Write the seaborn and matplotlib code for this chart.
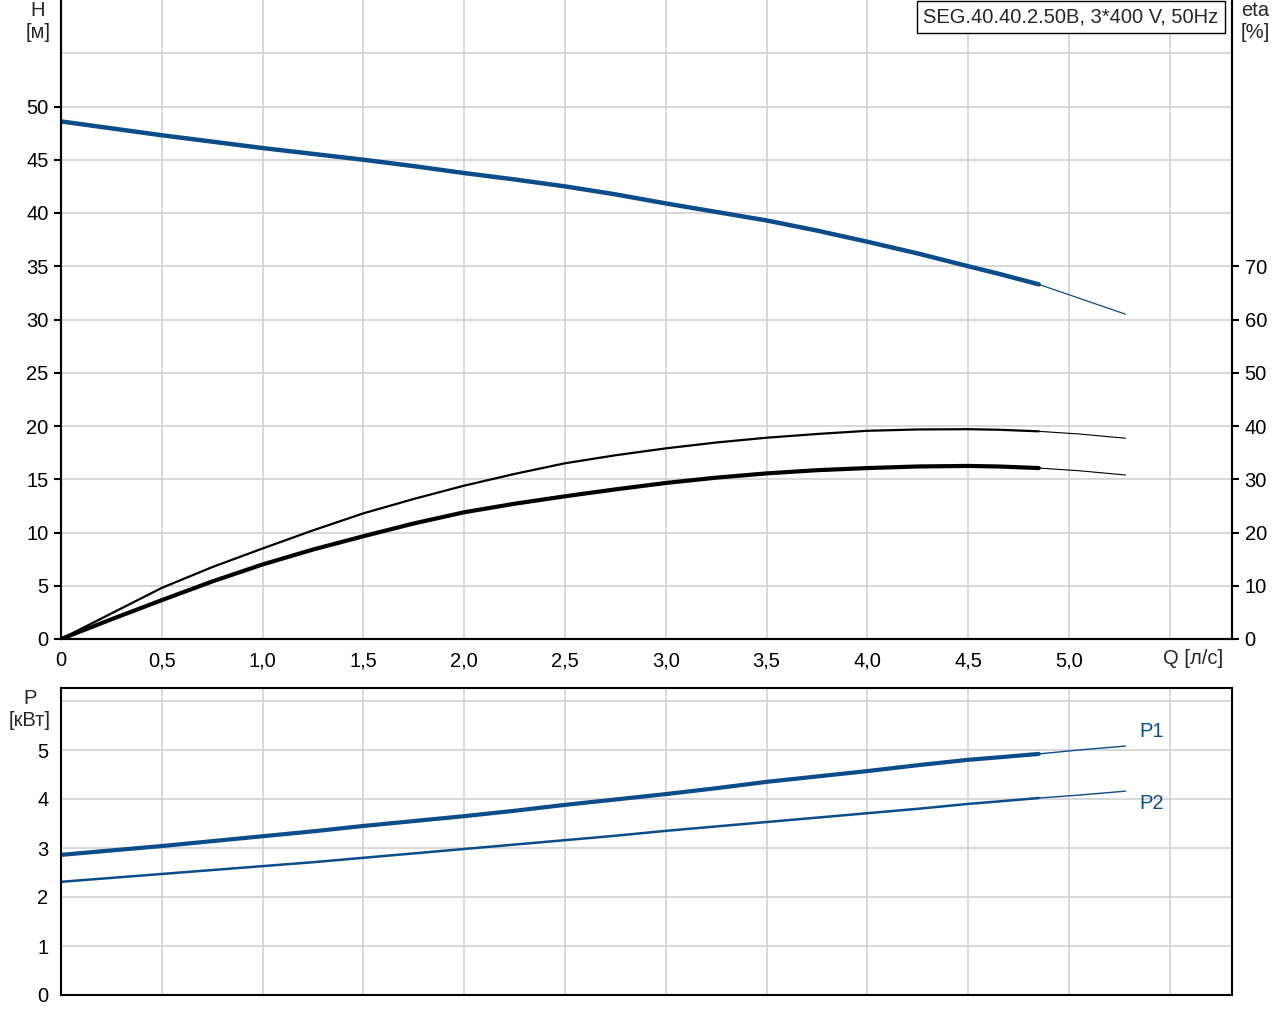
import matplotlib
matplotlib.use("Agg")
import numpy as np
import pandas as pd
import matplotlib.pyplot as plt
import matplotlib.transforms as mtransforms
import seaborn as sns

# flow points, l/s  (index 20 = 4.85, end of the operating range)
q = [0, 0.25, 0.5, 0.75, 1.0, 1.25, 1.5, 1.75, 2.0, 2.25, 2.5, 2.75, 3.0,
     3.25, 3.5, 3.75, 4.0, 4.25, 4.5, 4.65, 4.85, 5.05, 5.28]
head = [48.6, 47.95, 47.3, 46.7, 46.1, 45.55, 45.0, 44.4, 43.75, 43.15, 42.5, 41.75, 40.9,
        40.1, 39.3, 38.35, 37.3, 36.2, 35.0, 34.3, 33.3, 32.0, 30.5]
eta_pump = [0, 4.8, 9.6, 13.5, 17.0, 20.4, 23.6, 26.3, 28.8, 31.0, 33.0, 34.5, 35.8,
            36.9, 37.8, 38.5, 39.1, 39.35, 39.4, 39.3, 39.0, 38.5, 37.7]
eta_total = [0, 3.7, 7.3, 10.8, 14.0, 16.8, 19.3, 21.7, 23.8, 25.4, 26.8, 28.1, 29.3,
             30.3, 31.1, 31.7, 32.1, 32.4, 32.5, 32.4, 32.1, 31.6, 30.8]
p1 = [2.86, 2.95, 3.04, 3.14, 3.24, 3.34, 3.45, 3.55, 3.65, 3.76, 3.88, 3.99, 4.10,
      4.22, 4.35, 4.46, 4.57, 4.69, 4.80, 4.85, 4.92, 5.00, 5.08]
p2 = [2.31, 2.39, 2.47, 2.55, 2.63, 2.71, 2.80, 2.89, 2.98, 3.07, 3.16, 3.25, 3.35,
      3.44, 3.53, 3.62, 3.71, 3.80, 3.90, 3.95, 4.02, 4.08, 4.16]
x_ticks = [0, 0.5, 1.0, 1.5, 2.0, 2.5, 3.0, 3.5, 4.0, 4.5, 5.0, 5.5]
x_labels = ['0', '0,5', '1,0', '1,5', '2,0', '2,5', '3,0', '3,5', '4,0', '4,5', '5,0', '']
title = 'SEG.40.40.2.50B, 3*400 V, 50Hz'
END = 20

blue = '#0b4c8a'
grid_c = '#d2d2d2'
FS = 14.5

sns.set_style("white")
plt.rcParams['font.family'] = ['Liberation Sans', 'DejaVu Sans']
plt.rcParams['font.size'] = FS

df = pd.DataFrame({'q': q, 'head': head, 'eta_pump': eta_pump,
                   'eta_total': eta_total, 'p1': p1, 'p2': p2})
op = df.iloc[:END + 1]
ext = df.iloc[END:]

fig = plt.figure(figsize=(12.8, 10.24), dpi=100)
ax = fig.add_axes([61/1280, 1 - 639/1024, (1232-61)/1280, 639/1024])
ax2 = ax.twinx()
axp = fig.add_axes([61/1280, 1 - 995/1024, (1232-61)/1280, (995-688)/1024])

xmax = (1232 - 61) / 201.6

def style(a):
    for s in a.spines.values():
        s.set_color('black')
        s.set_linewidth(1.5)
    a.tick_params(colors='black', width=1.5, length=5, pad=4, labelsize=FS)

# top: head + efficiency
sns.lineplot(data=op, x='q', y='head', ax=ax, color=blue, lw=3.2, sort=False)
sns.lineplot(data=ext, x='q', y='head', ax=ax, color=blue, lw=0.9, sort=False)
sns.lineplot(data=op, x='q', y='eta_pump', ax=ax2, color='black', lw=1.6, sort=False)
sns.lineplot(data=ext, x='q', y='eta_pump', ax=ax2, color='black', lw=0.8, sort=False)
sns.lineplot(data=op, x='q', y='eta_total', ax=ax2, color='black', lw=3.0, sort=False)
sns.lineplot(data=ext, x='q', y='eta_total', ax=ax2, color='black', lw=0.8, sort=False)

ax.set_xlim(0, xmax)
ax.set_ylim(0, 60)
ax2.set_ylim(0, 120)
ax.set_xticks(x_ticks)
ax.set_xticklabels(x_labels)
ax.set_yticks(range(0, 51, 5))
ax.set_yticks([55], minor=True)
ax2.set_yticks(range(0, 71, 10))
ax.grid(True, which='both', color=grid_c, lw=1.2)
ax.set_axisbelow(True)
ax2.grid(False)
for a in (ax, ax2):
    a.set_xlabel('')
    a.set_ylabel('')
    style(a)
    a.spines['top'].set_visible(False)
ax.tick_params(which='minor', length=0)
ax2.tick_params(axis='y', labelright=True, labelleft=False)

# "Q [л/с]" sits at the 5.5 tick, starting just left of it
qoff = mtransforms.ScaledTranslation(-7/100, 0, fig.dpi_scale_trans)
ax.text(5.5, -19/639, 'Q [л/с]', ha='left', va='center', fontsize=FS,
        transform=ax.get_xaxis_transform() + qoff)

# bottom: power
sns.lineplot(data=op, x='q', y='p1', ax=axp, color=blue, lw=3.0, sort=False)
sns.lineplot(data=ext, x='q', y='p1', ax=axp, color=blue, lw=1.0, sort=False)
sns.lineplot(data=op, x='q', y='p2', ax=axp, color=blue, lw=1.8, sort=False)
sns.lineplot(data=ext, x='q', y='p2', ax=axp, color=blue, lw=1.0, sort=False)
axp.set_xlim(0, xmax)
axp.set_ylim(0, (995 - 688) / 49)
axp.set_xticks(x_ticks)
axp.set_xticklabels([])
axp.set_yticks(range(0, 7))
axp.set_yticklabels(['0', '1', '2', '3', '4', '5', ''])
axp.grid(True, color=grid_c, lw=1.2)
axp.set_axisbelow(True)
axp.set_xlabel('')
axp.set_ylabel('')
style(axp)
axp.tick_params(axis='x', length=0)
axp.text(5.41, 5.37, 'P1', color=blue, ha='center', va='center', fontsize=FS)
axp.text(5.41, 3.9, 'P2', color=blue, ha='center', va='center', fontsize=FS)

# axis captions and title box
fig.text(38/1280, 1 - 21/1024, 'H\n[м]', ha='center', va='center', fontsize=FS, linespacing=1.2)
fig.text(1255/1280, 1 - 21/1024, 'eta\n[%]', ha='center', va='center', fontsize=FS, linespacing=1.2)
fig.text(30/1280, 1 - 709/1024, 'P\n[кВт]', ha='center', va='center', fontsize=FS, linespacing=1.2)
fig.text(1071/1280, 1 - 17/1024, title, ha='center', va='center', fontsize=FS,
         bbox=dict(boxstyle='square,pad=0.3', fc='white', ec='black', lw=1.0))

fig.savefig('out.png', dpi=100)
